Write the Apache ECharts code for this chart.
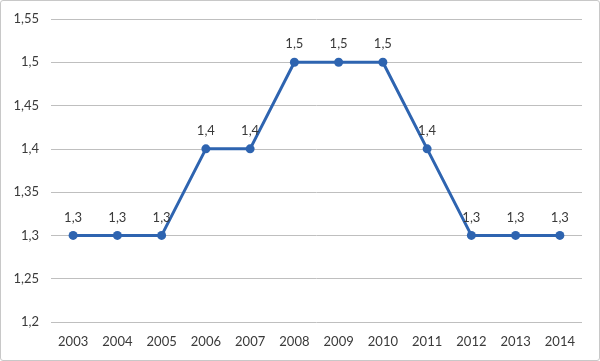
<!DOCTYPE html>
<html><head><meta charset="utf-8">
<script src="https://cdn.jsdelivr.net/npm/echarts@6/dist/echarts.min.js"></script>
<style>html,body{margin:0;padding:0;background:#fff;}
#c{position:absolute;left:0;top:0;width:598px;height:359px;border:1px solid #c8c8c8;border-radius:3px;}</style>
</head><body><div id="c"></div>
<script>
const categories = ['2003','2004','2005','2006','2007','2008','2009','2010','2011','2012','2013','2014'];
const values = [1.3,1.3,1.3,1.4,1.4,1.5,1.5,1.5,1.4,1.3,1.3,1.3];
const fmt = v => String(Math.round(v*100)/100).replace('.', ',');
const chart = echarts.init(document.getElementById('c'));
chart.setOption({
  animation:false,
  textStyle:{fontFamily:'Lato'},
  grid:{left:50,top:18,width:531,height:303,containLabel:false},
  xAxis:{type:'category',data:categories,boundaryGap:true,
    axisLine:{show:false},axisTick:{show:false},
    axisLabel:{color:'#3a3a3a',fontSize:13,margin:13}},
  yAxis:{type:'value',min:1.2,max:1.55,interval:0.05,
    axisLine:{show:false},axisTick:{show:false},
    splitLine:{lineStyle:{color:'#bfbfbf',width:1}},
    axisLabel:{color:'#3a3a3a',fontSize:13,margin:12,formatter:fmt}},
  series:[{type:'line',data:values,symbol:'circle',symbolSize:9,
    lineStyle:{color:'#2e64b0',width:3},itemStyle:{color:'#2e64b0'},
    label:{show:true,position:'top',distance:7,color:'#3a3a3a',fontSize:13,formatter:p=>fmt(p.value)}}]
});
</script></body></html>
